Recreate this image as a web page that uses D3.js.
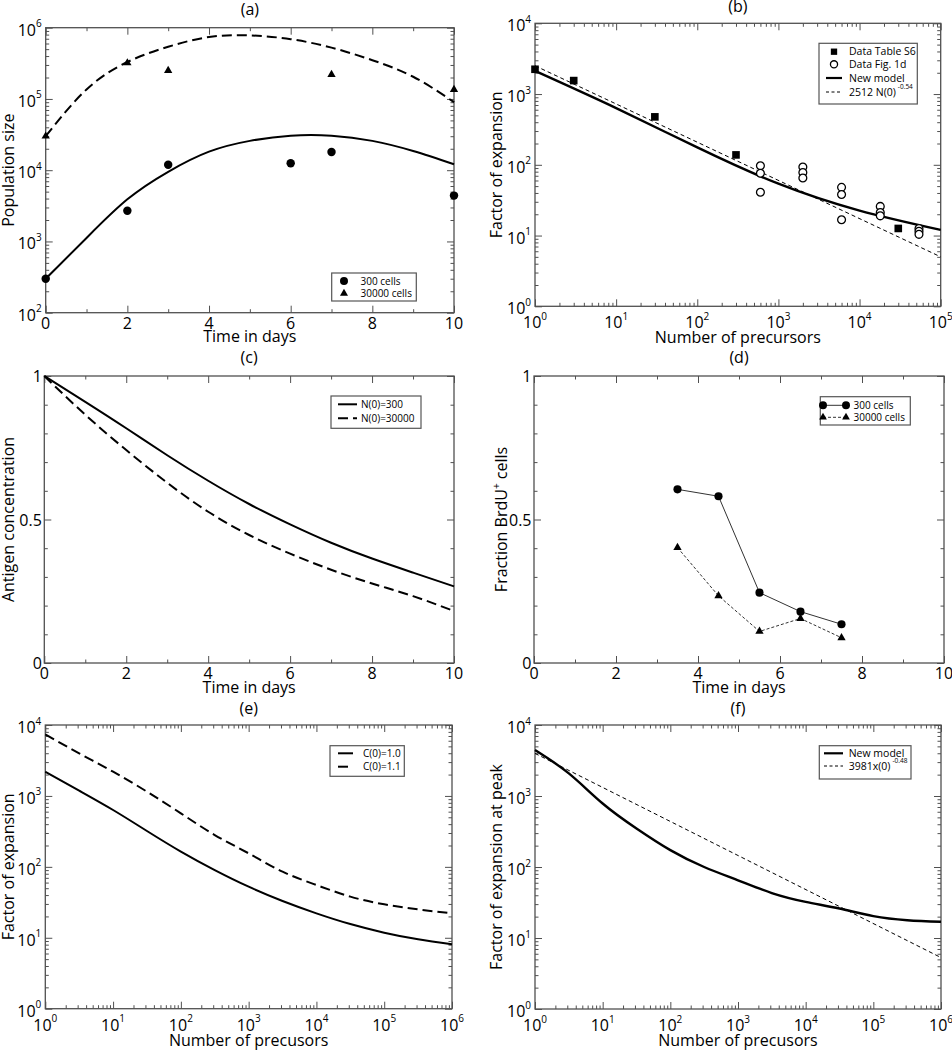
<!DOCTYPE html>
<html><head><meta charset="utf-8">
<script src="https://cdn.jsdelivr.net/npm/d3@7"></script>
<style>
body{margin:0;background:#fff;}
svg{display:block;font-family:"Open Sans","Noto Sans",sans-serif;}
</style></head><body>
<svg id="c" width="952" height="1050"></svg>
<script>
// ---------------- DATA ----------------
// Panel (a)
const aObsDays300 = [0, 2, 3, 6, 7, 10];
const aObs300 = [300, 2700, 11900, 12500, 18000, 4400];
const aObsDays30000 = [0, 2, 3, 7, 10];
const aObs30000 = [30000, 320000, 250000, 220000, 135000];
const aFitDays = [0, 1, 2, 3, 4, 5, 6, 7, 8, 9, 10];
const aFit300 = [300, 1120, 3900, 9500, 18200, 25800, 30500, 30500, 25800, 18600, 12100];
const aFit30000 = [30000, 136000, 330000, 540000, 740000, 780000, 690000, 525000, 350000, 205000, 90000];
const aLegend = ["300 cells", "30000 cells"];

// Panel (b)
const bS6N = [1, 3, 30, 300, 30000];
const bS6F = [2240, 1550, 476, 138, 12.6];
const bFigN = [600, 600, 600, 2000, 2000, 2000, 6000, 6000, 6000, 18000, 18000, 18000, 54000, 54000, 54000];
const bFigF = [97, 76, 41, 93, 78, 65, 48, 38, 16.7, 25.8, 21.2, 19, 12.6, 11.5, 10.4];
const bModelN = [1, 10, 100, 1000, 10000, 100000];
const bModelF = [2120, 632, 176, 54, 22.5, 12];
const bFitN = [1, 100000];
const bFitF = [2512, 5.0];
const bLegend = ["Data Table S6", "Data Fig. 1d", "New model", "2512 N(0)"];
const bLegendExp = "-0.54";

// Panel (c)
const cDays = [0, 1, 2, 3, 4, 5, 6, 7, 8, 9, 10];
const c300 = [1, 0.910, 0.818, 0.724, 0.635, 0.554, 0.483, 0.419, 0.364, 0.315, 0.267];
const c30000 = [1, 0.865, 0.742, 0.628, 0.527, 0.446, 0.381, 0.325, 0.277, 0.233, 0.181];
const cLegend = ["N(0)=300", "N(0)=30000"];

// Panel (d)
const dDays = [3.5, 4.5, 5.5, 6.5, 7.5];
const d300 = [0.605, 0.581, 0.245, 0.179, 0.135];
const d30000 = [0.402, 0.234, 0.110, 0.155, 0.088];
const dLegend = ["300 cells", "30000 cells"];

// Panel (e)
const eN = [1, 3.16, 10, 31.6, 100, 316, 1000, 3162, 10000, 31623, 100000, 316228, 1000000];
const eC10 = [2198, 1186, 633, 320, 164, 90, 52.5, 33, 22.1, 15.6, 11.8, 9.5, 8.1];
const eC11 = [7380, 3980, 2198, 1148, 568, 281, 155, 85.5, 55.4, 38, 29.6, 25.1, 22.1];
const eLegend = ["C(0)=1.0", "C(0)=1.1"];

// Panel (f)
const fN = [1, 3.16, 10, 31.6, 100, 316, 1000, 3162, 10000, 31623, 100000, 316228, 1000000];
const fModel = [4440, 2080, 785, 349, 173, 100, 65, 43, 32.3, 26, 20.3, 17.8, 16.9];
const fFitN = [1, 1000000];
const fFitF = [3981, 5.3];
const fLegend = ["New model", "3981x(0)"];
const fLegendExp = "-0.48";

// Ticks / labels
const dayMajor = [0, 2, 4, 6, 8, 10];
const dayMinor = [1, 3, 5, 7, 9];
const dayLabels = ["0", "2", "4", "6", "8", "10"];
const fracMajor = [0, 0.5, 1];
const fracMinor = [0.1, 0.2, 0.3, 0.4, 0.6, 0.7, 0.8, 0.9];
const fracLabels = ["0", "0.5", "1"];
const aYExp = [2, 3, 4, 5, 6];
const bXExp = [0, 1, 2, 3, 4, 5];
const bYExp = [0, 1, 2, 3, 4];
const efXExp = [0, 1, 2, 3, 4, 5, 6];
const efYExp = [0, 1, 2, 3, 4];

const titles = ["(a)", "(b)", "(c)", "(d)", "(e)", "(f)"];

// ---------------- DRAWING ----------------
const svg = d3.select("#c");
const FRAME = "#505050";
const INK = "#000";
const TXT = "#000";
const FS = 15;
const SUP = 10;
const zip = (a, b) => a.map((v, i) => [v, b[i]]);

function logMinors(exps) {
  const out = [];
  for (let i = 0; i < exps.length - 1; i++)
    for (let m = 2; m <= 9; m++) out.push(m * Math.pow(10, exps[i]));
  return out;
}

function ticks(g, scale, orient, values, len, box) {
  let ax, tr;
  if (orient === "bottom") { ax = d3.axisBottom(scale); tr = `translate(0,${box.b})`; }
  if (orient === "top") { ax = d3.axisTop(scale); tr = `translate(0,${box.t})`; }
  if (orient === "left") { ax = d3.axisLeft(scale); tr = `translate(${box.l},0)`; }
  if (orient === "right") { ax = d3.axisRight(scale); tr = `translate(${box.r},0)`; }
  const a = g.append("g").attr("transform", tr)
    .call(ax.tickValues(values).tickSize(-len).tickFormat(""));
  a.select(".domain").remove();
  a.selectAll("line").attr("stroke", FRAME).attr("stroke-width", 1);
}

function makePanel(cfg) {
  const box = cfg.box;
  const g = svg.append("g");
  const x = (cfg.xLog ? d3.scaleLog() : d3.scaleLinear()).domain(cfg.xDomain).range([box.l, box.r]);
  const y = (cfg.yLog ? d3.scaleLog() : d3.scaleLinear()).domain(cfg.yDomain).range([box.b, box.t]);
  const xMaj = cfg.xLog ? cfg.xExp.map(e => Math.pow(10, e)) : cfg.xMajor;
  const yMaj = cfg.yLog ? cfg.yExp.map(e => Math.pow(10, e)) : cfg.yMajor;
  const xMin = cfg.xLog ? logMinors(cfg.xExp) : cfg.xMinor;
  const yMin = cfg.yLog ? logMinors(cfg.yExp) : cfg.yMinor;
  const majLen = 7, minLen = 3.5;
  ["bottom", "top"].forEach(o => { ticks(g, x, o, xMaj, majLen, box); ticks(g, x, o, xMin, minLen, box); });
  ["left", "right"].forEach(o => { ticks(g, y, o, yMaj, majLen, box); ticks(g, y, o, yMin, minLen, box); });
  g.append("rect").attr("x", box.l).attr("y", box.t)
    .attr("width", box.r - box.l).attr("height", box.b - box.t)
    .attr("fill", "none").attr("stroke", FRAME).attr("stroke-width", 1.3);

  // x tick labels
  if (cfg.xLog) {
    cfg.xExp.forEach(e => {
      const t = g.append("text").attr("x", x(Math.pow(10, e))).attr("y", box.b + 22)
        .attr("text-anchor", "middle").attr("font-size", FS + 1).attr("fill", TXT);
      t.append("tspan").text("10");
      t.append("tspan").attr("dy", -8.5).attr("font-size", SUP).text(e);
    });
  } else {
    cfg.xMajor.forEach((v, i) => {
      g.append("text").attr("x", x(v)).attr("y", box.b + 16).attr("text-anchor", "middle")
        .attr("font-size", FS + 1).attr("fill", TXT).text(cfg.xLabels[i]);
    });
  }
  // y tick labels
  if (cfg.yLog) {
    cfg.yExp.forEach(e => {
      const t = g.append("text").attr("x", box.l - 4).attr("y", y(Math.pow(10, e)) + 8)
        .attr("text-anchor", "end").attr("font-size", FS + 1).attr("fill", TXT);
      t.append("tspan").text("10");
      t.append("tspan").attr("dy", -8.5).attr("font-size", SUP).text(e);
    });
  } else {
    cfg.yMajor.forEach((v, i) => {
      g.append("text").attr("x", box.l - 2.5).attr("y", y(v) + 6).attr("text-anchor", "end")
        .attr("font-size", FS + 1).attr("fill", TXT).text(cfg.yLabels[i]);
    });
  }
  // titles
  const cx = (box.l + box.r) / 2, cy = (box.t + box.b) / 2;
  g.append("text").attr("x", cx).attr("y", box.t - cfg.titleOff).attr("text-anchor", "middle")
    .attr("font-size", FS + 1).attr("fill", TXT).text(cfg.title);
  g.append("text").attr("x", cx).attr("y", box.b + cfg.xTitleOff).attr("text-anchor", "middle")
    .attr("font-size", FS + 1).attr("fill", TXT).text(cfg.xTitle);
  const yt = g.append("text").attr("transform", `translate(${cfg.yTitleX},${cy}) rotate(-90)`)
    .attr("text-anchor", "middle").attr("font-size", FS + 1).attr("fill", TXT);
  yt.append("tspan").text(cfg.yTitle);
  if (cfg.yTitleSup) {
    yt.append("tspan").attr("dy", -7).attr("font-size", SUP).text(cfg.yTitleSup);
    yt.append("tspan").attr("dy", 7).text(cfg.yTitleRest);
  }
  return { g, x, y, box };
}

function curve(P, xs, ys, width, dash, interp) {
  const line = d3.line().x(d => P.x(d[0])).y(d => P.y(d[1]))
    .curve(interp === false ? d3.curveLinear : d3.curveNatural);
  P.g.append("path").datum(zip(xs, ys)).attr("d", line).attr("fill", "none")
    .attr("stroke", INK).attr("stroke-width", width)
    .attr("stroke-dasharray", dash || null).attr("stroke-linecap", "butt");
}
function thinLine(P, xs, ys, dash) {
  const line = d3.line().x(d => P.x(d[0])).y(d => P.y(d[1]));
  P.g.append("path").datum(zip(xs, ys)).attr("d", line).attr("fill", "none")
    .attr("stroke", "#333").attr("stroke-width", 1).attr("stroke-dasharray", dash || null);
}
function marks(P, xs, ys, type, size, filled) {
  const sym = d3.symbol().type(type).size(size);
  P.g.selectAll(null).data(zip(xs, ys)).join("path")
    .attr("transform", d => `translate(${P.x(d[0])},${P.y(d[1])})`)
    .attr("d", sym).attr("fill", filled ? INK : "#fff")
    .attr("stroke", INK).attr("stroke-width", filled ? 0 : 1.3);
}
function legendBox(P, l, t, r, b) {
  P.g.append("rect").attr("x", l).attr("y", t).attr("width", r - l).attr("height", b - t)
    .attr("fill", "#fff").attr("stroke", "#555").attr("stroke-width", 1.2);
}
function legendText(P, x, y, txt, fs, sup) {
  const t = P.g.append("text").attr("x", x).attr("y", y + fs * 0.36).attr("font-size", fs).attr("fill", TXT);
  t.append("tspan").text(txt);
  if (sup) t.append("tspan").attr("dy", -7).attr("dx", 2).attr("font-size", 6.5).text(sup);
}
function legendSym(P, x, y, type, size, filled) {
  P.g.append("path").attr("transform", `translate(${x},${y})`).attr("d", d3.symbol().type(type).size(size)())
    .attr("fill", filled ? INK : "#fff").attr("stroke", INK).attr("stroke-width", filled ? 0 : 1.3);
}
function legendLine(P, x1, x2, y, w, dash, col) {
  P.g.append("line").attr("x1", x1).attr("x2", x2).attr("y1", y).attr("y2", y)
    .attr("stroke", col || INK).attr("stroke-width", w).attr("stroke-dasharray", dash || null);
}

// ---- (a)
const A = makePanel({
  box: { l: 45.7, r: 454, t: 27.7, b: 312.7 }, xLog: false, yLog: true,
  xDomain: [0, 10], yDomain: [1e2, 1e6], xMajor: dayMajor, xMinor: dayMinor, xLabels: dayLabels,
  yExp: aYExp, title: titles[0], titleOff: 12.5, xTitle: "Time in days", xTitleOff: 29,
  yTitle: "Population size", yTitleX: 14
});
curve(A, aFitDays, aFit300, 2);
curve(A, aFitDays, aFit30000, 2, "10,5");
marks(A, aObsDays300, aObs300, d3.symbolCircle, 56, true);
marks(A, aObsDays30000, aObs30000, d3.symbolTriangle, 30, true);
legendBox(A, 331.7, 273, 416.3, 301);
legendSym(A, 344, 281, d3.symbolCircle, 50, true);
legendSym(A, 344, 293.5, d3.symbolTriangle, 28, true);
legendText(A, 360.5, 281, aLegend[0], 10);
legendText(A, 360.5, 293.5, aLegend[1], 10);

// ---- (b)
const B = makePanel({
  box: { l: 535, r: 940.7, t: 23.3, b: 306.3 }, xLog: true, yLog: true,
  xDomain: [1, 1e5], yDomain: [1, 1e4], xExp: bXExp, yExp: bYExp,
  title: titles[1], titleOff: 11, xTitle: "Number of precursors", xTitleOff: 37,
  yTitle: "Factor of expansion", yTitleX: 502
});
curve(B, bFitN, bFitF, 1, "4,3", false);
curve(B, bModelN, bModelF, 2.4);
marks(B, bS6N, bS6F, d3.symbolSquare, 58, true);
marks(B, bFigN, bFigF, d3.symbolCircle, 48, false);
legendBox(B, 819, 43.3, 917.3, 104);
legendSym(B, 834, 51.7, d3.symbolSquare, 40, true);
legendSym(B, 834, 64.3, d3.symbolCircle, 40, false);
legendLine(B, 826, 842, 78, 2.2);
legendLine(B, 826, 842, 92, 1, "3,2.5");
legendText(B, 849, 51.7, bLegend[0], 10.5);
legendText(B, 849, 64.3, bLegend[1], 10.5);
legendText(B, 849, 78, bLegend[2], 10.5);
legendText(B, 849, 92, bLegend[3], 10.5, bLegendExp);

// ---- (c)
const C = makePanel({
  box: { l: 44.3, r: 454, t: 376, b: 663 }, xLog: false, yLog: false,
  xDomain: [0, 10], yDomain: [0, 1], xMajor: dayMajor, xMinor: dayMinor, xLabels: dayLabels,
  yMajor: fracMajor, yMinor: fracMinor, yLabels: fracLabels,
  title: titles[2], titleOff: 13, xTitleOff: 30, xTitle: "Time in days",
  yTitle: "Antigen concentration", yTitleX: 14
});
curve(C, cDays, c300, 2);
curve(C, cDays, c30000, 2, "10,5");
legendBox(C, 331, 396, 421, 428.3);
legendLine(C, 338, 357, 404.3, 2);
legendLine(C, 338, 357, 418.3, 2, "10,5");
legendText(C, 361, 404.3, cLegend[0], 10);
legendText(C, 361, 418.3, cLegend[1], 10);

// ---- (d)
const D = makePanel({
  box: { l: 534, r: 944, t: 376, b: 663 }, xLog: false, yLog: false,
  xDomain: [0, 10], yDomain: [0, 1], xMajor: dayMajor, xMinor: dayMinor, xLabels: dayLabels,
  yMajor: fracMajor, yMinor: fracMinor, yLabels: fracLabels,
  title: titles[3], titleOff: 13, xTitle: "Time in days", xTitleOff: 30,
  yTitle: "Fraction BrdU", yTitleSup: "+", yTitleRest: " cells", yTitleX: 507
});
thinLine(D, dDays, d300);
thinLine(D, dDays, d30000, "3,2");
marks(D, dDays, d300, d3.symbolCircle, 52, true);
marks(D, dDays, d30000, d3.symbolTriangle, 30, true);
legendBox(D, 820.3, 396.7, 910.3, 425);
legendLine(D, 823, 846, 405.3, 1, null, "#333");
legendLine(D, 823, 846, 417.3, 1, "3,2", "#333");
legendSym(D, 823, 405.3, d3.symbolCircle, 50, true);
legendSym(D, 846, 405.3, d3.symbolCircle, 50, true);
legendSym(D, 823, 417.3, d3.symbolTriangle, 26, true);
legendSym(D, 846, 417.3, d3.symbolTriangle, 26, true);
legendText(D, 853.5, 405.3, dLegend[0], 10);
legendText(D, 853.5, 417.3, dLegend[1], 10);

// ---- (e)
const E = makePanel({
  box: { l: 45.3, r: 452, t: 725, b: 1008.7 }, xLog: true, yLog: true,
  xDomain: [1, 1e6], yDomain: [1, 1e4], xExp: efXExp, yExp: efYExp,
  title: titles[4], titleOff: 11.5, xTitle: "Number of precusors", xTitleOff: 37,
  yTitle: "Factor of expansion", yTitleX: 14
});
curve(E, eN, eC10, 2);
curve(E, eN, eC11, 2, "10,5");
legendBox(E, 330, 745.7, 404.3, 776.3);
legendLine(E, 338, 353, 753.3, 2);
legendLine(E, 338, 353, 766.7, 2, "10,5");
legendText(E, 363, 753.3, eLegend[0], 10);
legendText(E, 363, 766.7, eLegend[1], 10);

// ---- (f)
const F = makePanel({
  box: { l: 535, r: 941, t: 725, b: 1009 }, xLog: true, yLog: true,
  xDomain: [1, 1e6], yDomain: [1, 1e4], xExp: efXExp, yExp: efYExp,
  title: titles[5], titleOff: 11.5, xTitle: "Number of precusors", xTitleOff: 37,
  yTitle: "Factor of expansion at peak", yTitleX: 502
});
curve(F, fFitN, fFitF, 1, "4,3", false);
curve(F, fN, fModel, 2.4);
legendBox(F, 819.3, 745.7, 911, 779);
legendLine(F, 824, 843, 753.3, 2.2);
legendLine(F, 824, 843, 766, 1, "3,2.5");
legendText(F, 848.7, 753.3, fLegend[0], 10.5);
legendText(F, 848.7, 766, fLegend[1], 10.5, fLegendExp);
</script>
</body></html>
